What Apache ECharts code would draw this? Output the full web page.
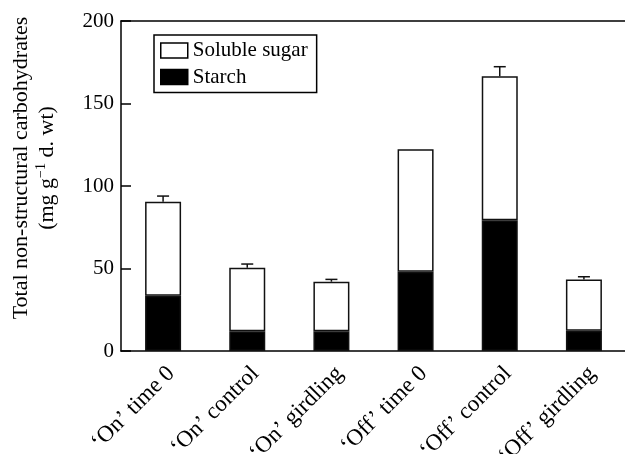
<!DOCTYPE html>
<html>
<head>
<meta charset="utf-8">
<script src="https://cdn.jsdelivr.net/npm/echarts@6/dist/echarts.min.js"></script>
<style>html,body{margin:0;padding:0;background:#fff;}#c{width:625px;height:454px;}</style>
</head>
<body>
<div id="c"></div>
<script>
var categories = ['\u2018On\u2019 time 0', '\u2018On\u2019 control', '\u2018On\u2019 girdling', '\u2018Off\u2019 time 0', '\u2018Off\u2019 control', '\u2018Off\u2019 girdling'];
var starch = [33.5, 11.9, 11.9, 48.1, 79.2, 12.3];
var solubleSugar = [57.0, 38.6, 30.1, 74.1, 87.3, 31.1];
var totalError = [3.4, 2.2, 1.4, 0, 5.8, 1.6];
var yTicks = [0, 50, 100, 150, 200];

var FONT = '"Liberation Serif", "Times New Roman", serif';
var chart = echarts.init(document.getElementById('c'), null, {renderer: 'canvas'});

var errData = categories.map(function (c, i) {
  return [i, starch[i] + solubleSugar[i], totalError[i]];
});

var option = {
  backgroundColor: '#fff',
  animation: false,
  grid: {left: 121, top: 21, width: 505, height: 330, containLabel: false, outerBoundsMode: 'none'},
  legend: {
    orient: 'vertical', left: 154, top: 35,
    itemWidth: 27, itemHeight: 15, itemGap: 5.5,
    padding: [5, 9, 5, 6],
    borderColor: '#000', borderWidth: 1.5,
    textStyle: {fontFamily: FONT, fontSize: 21, color: '#000'},
    data: [
      {name: 'Soluble sugar', icon: 'rect', itemStyle: {color: '#fff', borderColor: '#000', borderWidth: 1.5}},
      {name: 'Starch', icon: 'rect', itemStyle: {color: '#000', borderColor: '#000', borderWidth: 1.5}}
    ]
  },
  xAxis: [{
    type: 'category', data: categories,
    axisLine: {lineStyle: {color: '#000', width: 1.5}},
    axisTick: {show: false},
    axisLabel: {rotate: 45, margin: 11, interval: 0, fontFamily: FONT, fontSize: 23, color: '#000', verticalAlign: 'top'}
  }, {
    type: 'category', data: categories, position: 'top',
    axisLine: {lineStyle: {color: '#000', width: 1.5}},
    axisTick: {show: false}, axisLabel: {show: false}, splitLine: {show: false}
  }],
  yAxis: {
    type: 'value', min: 0, max: 200, interval: 50,
    axisLine: {show: true, lineStyle: {color: '#000', width: 1.5}},
    axisTick: {show: true, inside: true, length: 10, lineStyle: {color: '#000', width: 1.5}},
    splitLine: {show: false},
    axisLabel: {margin: 7, fontFamily: FONT, fontSize: 21, color: '#000',
      formatter: function (v) { return yTicks.indexOf(v) >= 0 ? String(v) : ''; }}
  },
  graphic: [{
    type: 'text', x: 34, y: 168, rotation: Math.PI / 2,
    style: {
      text: 'Total non-structural carbohydrates\n(mg g{sup|\u22121} d. wt)',
      fontFamily: FONT, fontSize: 22, fill: '#000', lineHeight: 26,
      align: 'center', verticalAlign: 'middle',
      rich: {sup: {fontFamily: FONT, fontSize: 14, lineHeight: 26, verticalAlign: 'top', padding: [0, 0, 8, 0]}}
    }
  }],
  series: [
    {name: 'Starch', type: 'bar', stack: 'total', barWidth: 36, data: starch,
      itemStyle: {color: '#000', borderColor: '#111', borderWidth: 1.5}},
    {name: 'Soluble sugar', type: 'bar', stack: 'total', barWidth: 36, data: solubleSugar,
      itemStyle: {color: '#fff', borderColor: '#111', borderWidth: 1.5}},
    {name: 'err', type: 'custom', data: errData, z: 5,
      renderItem: function (params, api) {
        var e = api.value(2);
        if (!e) return null;
        var x = api.value(0), top = api.value(1);
        var p0 = api.coord([x, top]);
        var p1 = api.coord([x, top + e]);
        var hw = 6;
        var st = {stroke: '#111', lineWidth: 1.5};
        return {type: 'group', children: [
          {type: 'line', shape: {x1: p0[0], y1: p0[1], x2: p1[0], y2: p1[1]}, style: st},
          {type: 'line', shape: {x1: p1[0] - hw, y1: p1[1], x2: p1[0] + hw, y2: p1[1]}, style: st}
        ]};
      }}
  ]
};
chart.setOption(option);
</script>
</body>
</html>
